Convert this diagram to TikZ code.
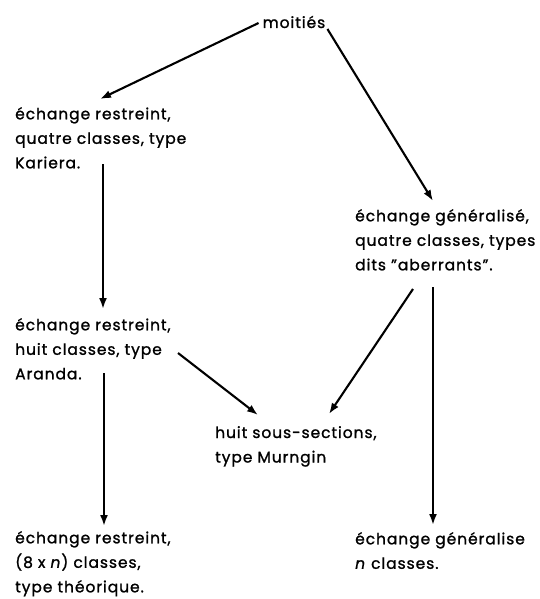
\documentclass[tikz,border=0pt]{standalone}
\usepackage{fontspec}
\setmainfont{Poppins}[LetterSpace=6,FakeBold=1.2]
\usetikzlibrary{arrows.meta,calc}
\tikzset{
  lbl/.style={anchor=north west,inner sep=0pt,align=left,font={\fontsize{15.5}{24.5}\selectfont}},
  arr/.style={line width=2.1pt,-{Latex[length=11pt,width=8pt]}}
}
\begin{document}
\begin{tikzpicture}[x=1pt,y=1pt]
\useasboundingbox (0,0) rectangle (539,-599);
\node[anchor=center,inner sep=0pt,font={\fontsize{15.5}{24.5}\selectfont}] (moit) at (294,-22) {moitiés};
\node[lbl] (A) at (15,-107) {échange restreint,\\quatre classes, type\\Kariera.};
\node[lbl] (C) at (355,-209) {échange généralisé,\\quatre classes, types\\dits "aberrants".};
\node[lbl] (B) at (15,-318) {échange restreint,\\huit classes, type\\Aranda.};
\node[lbl] (M) at (215,-426) {huit sous-sections,\\type Murngin};
\node[lbl] (D) at (15,-531) {échange restreint,\\(8 x \textit{n}) classes,\\type théorique.};
\node[lbl] (E) at (355,-532) {échange généralise\\\textit{n} classes.};
\draw[arr] ($(moit.west)+(-4,-1)$) -- ($(A.north west)+(85,8)$);
\draw[arr] ($(moit.east)+(2,-7)$) -- ($(C.north west)+(78,8)$);
\draw[arr] ($(A.north west)+(88,-57)$) -- ($(B.north west)+(88,9)$);
\draw[arr] ($(B.north west)+(89,-55)$) -- ($(D.north west)+(89,5)$);
\draw[arr] ($(B.north west)+(163,-35)$) -- ($(M.north west)+(43,11)$);
\draw[arr] ($(C.north west)+(58,-80)$) -- ($(M.north west)+(114,12)$);
\draw[arr] ($(C.north west)+(78,-78)$) -- ($(E.north west)+(78,7)$);
\end{tikzpicture}
\end{document}
